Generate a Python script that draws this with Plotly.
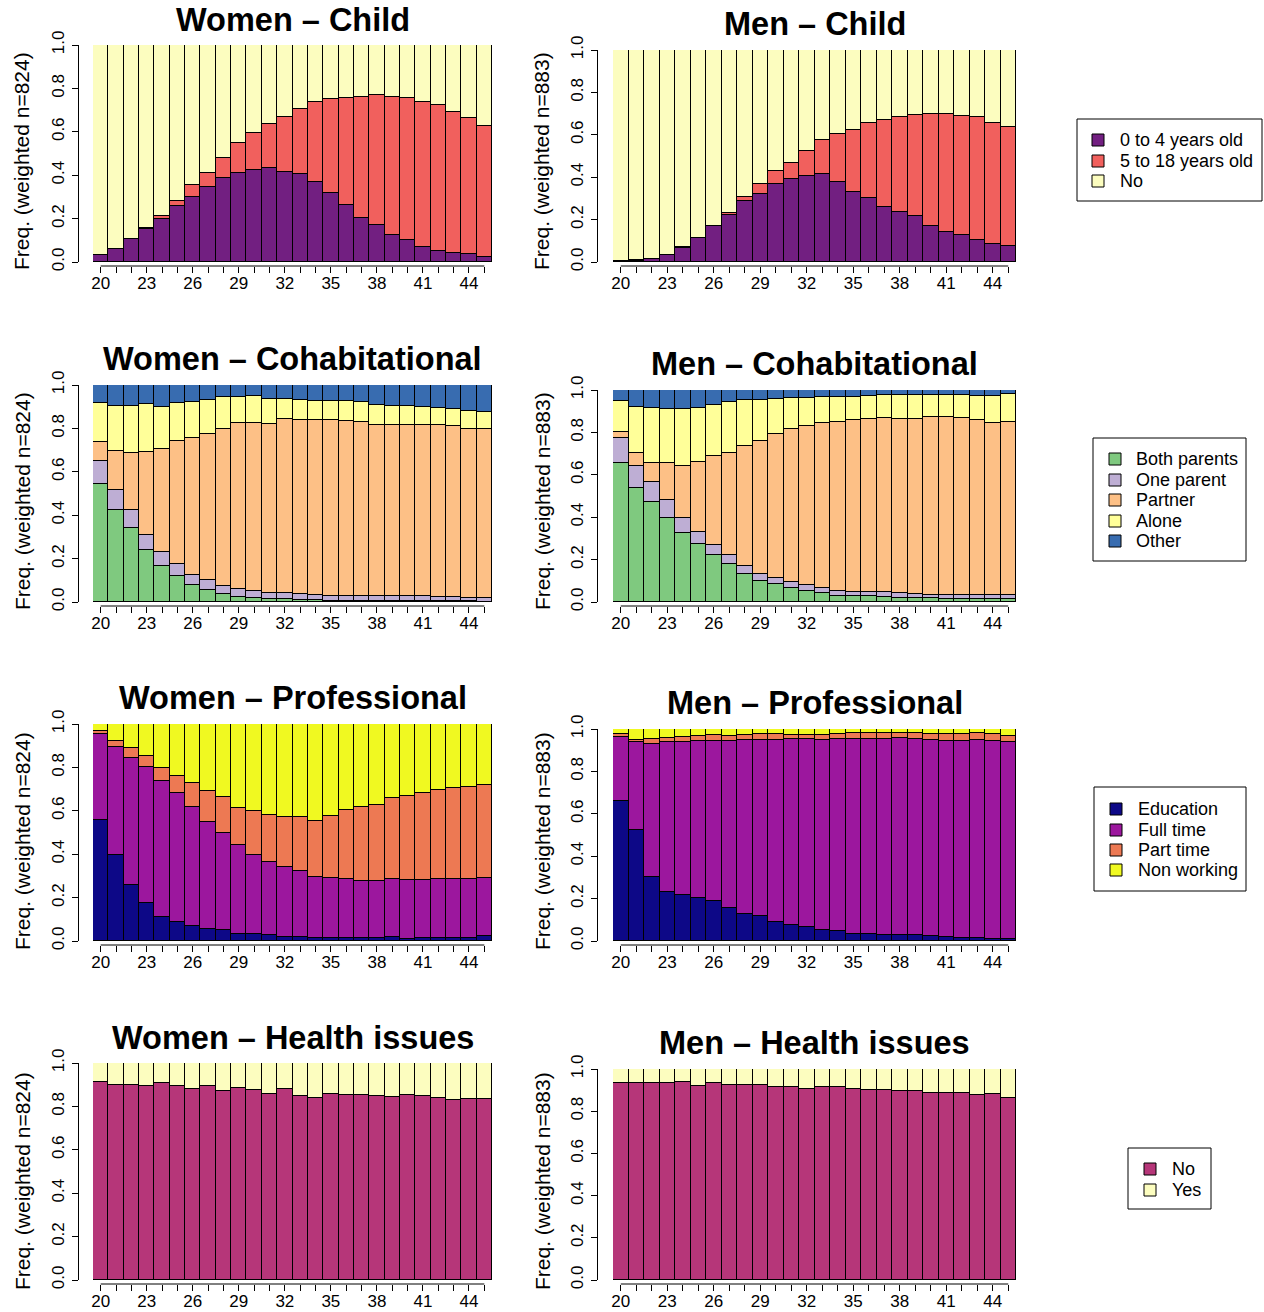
import plotly.graph_objects as go

W, H = 1264, 1312
FONT = "Liberation Sans, Arial, Helvetica, sans-serif"

# ---------------------------------------------------------------- data
ages = list(range(20, 46))
labeled_ages = [20, 23, 26, 29, 32, 35, 38, 41, 44]
y_ticks = [0.0, 0.2, 0.4, 0.6, 0.8, 1.0]
y_tick_labels = ["0.0", "0.2", "0.4", "0.6", "0.8", "1.0"]

# Child
child_states = ["0 to 4 years old", "5 to 18 years old", "No"]
child_colors = ["#721F81", "#F1605D", "#FCFDBF"]
women_child_0_4 = [0.030, 0.060, 0.105, 0.150, 0.200, 0.260, 0.300, 0.345, 0.385, 0.410, 0.425, 0.435, 0.415,
                   0.405, 0.370, 0.320, 0.265, 0.205, 0.170, 0.125, 0.100, 0.070, 0.050, 0.040, 0.035, 0.025]
women_child_5_18 = [0.000, 0.002, 0.003, 0.005, 0.010, 0.020, 0.055, 0.065, 0.095, 0.140, 0.170, 0.202, 0.255,
                    0.302, 0.368, 0.432, 0.493, 0.555, 0.598, 0.637, 0.655, 0.668, 0.672, 0.650, 0.630, 0.600]
women_child_no = [0.970, 0.938, 0.892, 0.845, 0.790, 0.720, 0.645, 0.590, 0.520, 0.450, 0.405, 0.363, 0.330,
                  0.293, 0.262, 0.248, 0.242, 0.240, 0.232, 0.238, 0.245, 0.262, 0.278, 0.310, 0.335, 0.375]
men_child_0_4 = [0.002, 0.007, 0.014, 0.032, 0.067, 0.112, 0.169, 0.224, 0.288, 0.320, 0.367, 0.392, 0.405,
                 0.414, 0.378, 0.331, 0.304, 0.260, 0.238, 0.217, 0.170, 0.143, 0.129, 0.104, 0.083, 0.074]
men_child_5_18 = [0.001, 0.002, 0.002, 0.003, 0.003, 0.003, 0.003, 0.009, 0.019, 0.047, 0.063, 0.077, 0.119,
                  0.161, 0.228, 0.294, 0.350, 0.408, 0.447, 0.476, 0.530, 0.556, 0.562, 0.578, 0.575, 0.561]
men_child_no = [0.997, 0.991, 0.984, 0.965, 0.930, 0.885, 0.828, 0.767, 0.693, 0.633, 0.570, 0.531, 0.476,
                0.425, 0.394, 0.375, 0.346, 0.332, 0.315, 0.307, 0.300, 0.301, 0.309, 0.318, 0.342, 0.365]

# Cohabitational
cohab_states = ["Both parents", "One parent", "Partner", "Alone", "Other"]
cohab_colors = ["#7FC97F", "#BEAED4", "#FDC086", "#FFFF99", "#386CB0"]
women_cohab_both = [0.546, 0.426, 0.343, 0.238, 0.166, 0.120, 0.077, 0.057, 0.035, 0.023, 0.018, 0.014, 0.012,
                    0.009, 0.007, 0.006, 0.005, 0.005, 0.005, 0.004, 0.004, 0.004, 0.003, 0.003, 0.003, 0.002]
women_cohab_one = [0.103, 0.089, 0.083, 0.070, 0.065, 0.057, 0.046, 0.043, 0.039, 0.039, 0.033, 0.029, 0.028,
                   0.028, 0.027, 0.023, 0.023, 0.023, 0.023, 0.024, 0.024, 0.024, 0.022, 0.019, 0.017, 0.016]
women_cohab_partner = [0.089, 0.183, 0.259, 0.383, 0.475, 0.563, 0.634, 0.675, 0.723, 0.761, 0.774, 0.777, 0.802,
                       0.801, 0.803, 0.808, 0.806, 0.801, 0.787, 0.786, 0.789, 0.787, 0.789, 0.787, 0.778, 0.777]
women_cohab_alone = [0.180, 0.207, 0.220, 0.220, 0.192, 0.175, 0.166, 0.156, 0.146, 0.123, 0.126, 0.114, 0.093,
                     0.091, 0.091, 0.089, 0.091, 0.091, 0.094, 0.088, 0.085, 0.082, 0.078, 0.079, 0.080, 0.082]
women_cohab_other = [0.082, 0.095, 0.095, 0.089, 0.102, 0.085, 0.077, 0.069, 0.057, 0.054, 0.049, 0.066, 0.065,
                     0.071, 0.072, 0.074, 0.075, 0.080, 0.091, 0.098, 0.098, 0.103, 0.108, 0.112, 0.122, 0.123]
men_cohab_both = [0.657, 0.539, 0.472, 0.397, 0.326, 0.272, 0.220, 0.180, 0.134, 0.099, 0.085, 0.066, 0.052,
                  0.043, 0.028, 0.028, 0.028, 0.024, 0.019, 0.019, 0.019, 0.016, 0.014, 0.014, 0.013, 0.013]
men_cohab_one = [0.118, 0.102, 0.095, 0.085, 0.071, 0.056, 0.051, 0.042, 0.035, 0.035, 0.030, 0.030, 0.030,
                 0.022, 0.026, 0.021, 0.021, 0.022, 0.024, 0.020, 0.016, 0.017, 0.019, 0.021, 0.020, 0.020]
men_cohab_partner = [0.028, 0.063, 0.090, 0.172, 0.246, 0.333, 0.416, 0.479, 0.568, 0.625, 0.679, 0.718, 0.748,
                     0.778, 0.793, 0.808, 0.814, 0.823, 0.822, 0.822, 0.836, 0.839, 0.833, 0.823, 0.811, 0.814]
men_cohab_alone = [0.145, 0.217, 0.260, 0.258, 0.269, 0.252, 0.242, 0.244, 0.214, 0.192, 0.165, 0.150, 0.131,
                   0.122, 0.122, 0.112, 0.109, 0.107, 0.110, 0.114, 0.105, 0.103, 0.109, 0.112, 0.126, 0.132]
men_cohab_other = [0.052, 0.079, 0.083, 0.088, 0.088, 0.087, 0.071, 0.055, 0.049, 0.049, 0.041, 0.036, 0.039,
                   0.035, 0.031, 0.031, 0.028, 0.024, 0.025, 0.025, 0.024, 0.025, 0.025, 0.030, 0.030, 0.021]

# Professional
prof_states = ["Education", "Full time", "Part time", "Non working"]
prof_colors = ["#0D0887", "#9C179E", "#ED7953", "#F0F921"]
women_prof_edu = [0.558, 0.396, 0.260, 0.173, 0.111, 0.088, 0.069, 0.057, 0.049, 0.034, 0.031, 0.028, 0.020,
                  0.020, 0.014, 0.014, 0.014, 0.015, 0.015, 0.020, 0.011, 0.014, 0.015, 0.015, 0.014, 0.023]
women_prof_full = [0.396, 0.496, 0.583, 0.627, 0.627, 0.593, 0.550, 0.493, 0.450, 0.407, 0.367, 0.337, 0.322,
                   0.304, 0.282, 0.276, 0.273, 0.262, 0.261, 0.265, 0.269, 0.268, 0.270, 0.269, 0.273, 0.267]
women_prof_part = [0.012, 0.031, 0.046, 0.051, 0.059, 0.079, 0.107, 0.143, 0.165, 0.174, 0.201, 0.216, 0.230,
                   0.249, 0.256, 0.285, 0.317, 0.341, 0.350, 0.373, 0.386, 0.401, 0.413, 0.422, 0.422, 0.431]
women_prof_non = [0.034, 0.077, 0.111, 0.149, 0.203, 0.240, 0.274, 0.307, 0.336, 0.385, 0.401, 0.419, 0.428,
                  0.427, 0.448, 0.425, 0.396, 0.382, 0.374, 0.342, 0.334, 0.317, 0.302, 0.294, 0.291, 0.279]
men_prof_edu = [0.661, 0.524, 0.300, 0.230, 0.215, 0.205, 0.189, 0.158, 0.126, 0.117, 0.091, 0.077, 0.068,
                0.050, 0.046, 0.032, 0.035, 0.030, 0.028, 0.028, 0.022, 0.020, 0.016, 0.016, 0.011, 0.011]
men_prof_full = [0.300, 0.414, 0.629, 0.707, 0.723, 0.738, 0.756, 0.785, 0.822, 0.831, 0.857, 0.874, 0.886,
                 0.898, 0.908, 0.919, 0.918, 0.923, 0.928, 0.925, 0.926, 0.923, 0.929, 0.934, 0.932, 0.927]
men_prof_part = [0.014, 0.012, 0.024, 0.019, 0.024, 0.022, 0.027, 0.025, 0.025, 0.027, 0.028, 0.021, 0.019,
                 0.024, 0.022, 0.028, 0.026, 0.030, 0.025, 0.028, 0.027, 0.032, 0.030, 0.031, 0.033, 0.030]
men_prof_non = [0.025, 0.050, 0.047, 0.044, 0.038, 0.035, 0.028, 0.032, 0.027, 0.025, 0.024, 0.028, 0.027,
                0.028, 0.024, 0.021, 0.021, 0.017, 0.019, 0.019, 0.025, 0.025, 0.025, 0.019, 0.024, 0.032]

# Health issues
health_states = ["No", "Yes"]
health_colors = ["#B63679", "#FCFDBF"]
women_health_no = [0.911, 0.898, 0.897, 0.895, 0.909, 0.892, 0.882, 0.895, 0.872, 0.883, 0.877, 0.855, 0.878,
                   0.846, 0.840, 0.858, 0.852, 0.852, 0.846, 0.845, 0.851, 0.848, 0.838, 0.828, 0.832, 0.835]
women_health_yes = [0.089, 0.102, 0.103, 0.105, 0.091, 0.108, 0.118, 0.105, 0.128, 0.117, 0.123, 0.145, 0.122,
                    0.154, 0.160, 0.142, 0.148, 0.148, 0.154, 0.155, 0.149, 0.152, 0.162, 0.172, 0.168, 0.165]
men_health_no = [0.935, 0.934, 0.932, 0.935, 0.937, 0.921, 0.932, 0.923, 0.926, 0.926, 0.916, 0.915, 0.904,
                 0.916, 0.916, 0.905, 0.899, 0.900, 0.896, 0.897, 0.888, 0.888, 0.888, 0.878, 0.880, 0.864]
men_health_yes = [0.065, 0.066, 0.068, 0.065, 0.063, 0.079, 0.068, 0.077, 0.074, 0.074, 0.084, 0.085, 0.096,
                  0.084, 0.084, 0.095, 0.101, 0.100, 0.104, 0.103, 0.112, 0.112, 0.112, 0.122, 0.120, 0.136]

women_n, men_n = 824, 883

# ---------------------------------------------------------------- layout geometry (pixels)
def fx(px):
    return px / W


def fy(px):
    return 1 - px / H


columns = {
    "women": dict(x0=93, x1=492, axis_x=78, label_x=22),
    "men": dict(x0=613, x1=1016, axis_x=597, label_x=542),
}
row_top = {"women": [45, 385, 724, 1063], "men": [50, 390, 729, 1069]}
row_bottom = [262, 602, 941, 1280]
title_y = {"women": [20, 359, 698, 1038], "men": [24, 364, 703, 1043]}
ylabel_y = [161, 501, 841, 1181]

panels = [
    ("women", 0, "Women \u2013 Child", [women_child_0_4, women_child_5_18, women_child_no], child_colors),
    ("men", 0, "Men \u2013 Child", [men_child_0_4, men_child_5_18, men_child_no], child_colors),
    ("women", 1, "Women \u2013 Cohabitational",
     [women_cohab_both, women_cohab_one, women_cohab_partner, women_cohab_alone, women_cohab_other], cohab_colors),
    ("men", 1, "Men \u2013 Cohabitational",
     [men_cohab_both, men_cohab_one, men_cohab_partner, men_cohab_alone, men_cohab_other], cohab_colors),
    ("women", 2, "Women \u2013 Professional",
     [women_prof_edu, women_prof_full, women_prof_part, women_prof_non], prof_colors),
    ("men", 2, "Men \u2013 Professional",
     [men_prof_edu, men_prof_full, men_prof_part, men_prof_non], prof_colors),
    ("women", 3, "Women \u2013 Health issues", [women_health_no, women_health_yes], health_colors),
    ("men", 3, "Men \u2013 Health issues", [men_health_no, men_health_yes], health_colors),
]

legends = [
    dict(states=child_states, colors=child_colors, box=(1077, 119, 1262, 201), sq_x=1098, text_x=1118,
         rows=[140, 161, 181]),
    dict(states=cohab_states, colors=cohab_colors, box=(1093, 438, 1246, 561), sq_x=1115, text_x=1134,
         rows=[459, 480, 500, 521, 541]),
    dict(states=prof_states, colors=prof_colors, box=(1094, 787, 1246, 891), sq_x=1116, text_x=1136,
         rows=[809, 830, 850, 870]),
    dict(states=health_states, colors=health_colors, box=(1128, 1148, 1211, 1209), sq_x=1150, text_x=1170,
         rows=[1169, 1190]),
]

# ---------------------------------------------------------------- figure
fig = go.Figure()
shapes, annotations = [], []
layout_axes = {}
x_tick_text = [str(a) if a in labeled_ages else "" for a in ages]

for i, (sex, row, title, series, colors) in enumerate(panels):
    xr = "x" if i == 0 else f"x{i + 1}"
    yr = "y" if i == 0 else f"y{i + 1}"
    col = columns[sex]
    top, bottom = row_top[sex][row], row_bottom[row]

    for vals, color in zip(series, colors):
        fig.add_trace(go.Bar(
            x=ages, y=vals, xaxis=xr, yaxis=yr,
            marker=dict(color=color, line=dict(color="black", width=1)),
            showlegend=False, hoverinfo="skip",
        ))

    axis_y = bottom + 4
    layout_axes["xaxis" if i == 0 else f"xaxis{i + 1}"] = dict(
        domain=[fx(col["x0"]), fx(col["x1"])], range=[ages[0] - 0.5, ages[-1] + 0.5],
        anchor="free", position=fy(axis_y), showline=False, showgrid=False, zeroline=False,
        automargin=False,
        ticks="outside", ticklen=6, tickwidth=1, tickcolor="black", ticklabelstandoff=-4,
        tickvals=ages, ticktext=x_tick_text, tickangle=0,
        tickfont=dict(family=FONT, size=17, color="black"), fixedrange=True,
    )
    layout_axes["yaxis" if i == 0 else f"yaxis{i + 1}"] = dict(
        domain=[fy(bottom), fy(top)], range=[0, 1],
        anchor="free", position=fx(col["axis_x"]), showline=True, linecolor="black", linewidth=1,
        showgrid=False, zeroline=False, automargin=False,
        ticks="outside", ticklen=6, tickwidth=1, tickcolor="black", ticklabelstandoff=1,
        tickvals=y_ticks, ticktext=y_tick_labels, tickangle=-90,
        tickfont=dict(family=FONT, size=17, color="black"), fixedrange=True,
    )

    # x axis line spanning first to last age
    shapes.append(dict(type="line", xref=xr, yref="paper", x0=ages[0], x1=ages[-1],
                       y0=fy(axis_y), y1=fy(axis_y), line=dict(color="black", width=1)))

    annotations.append(dict(
        text=title, xref="paper", yref="paper",
        x=fx((col["x0"] + col["x1"]) / 2), y=fy(title_y[sex][row]),
        xanchor="center", yanchor="middle", showarrow=False,
        font=dict(family=FONT, size=32.5, color="black", weight="bold"),
    ))
    n = women_n if sex == "women" else men_n
    annotations.append(dict(
        text=f"Freq. (weighted n={n})", xref="paper", yref="paper",
        x=fx(col["label_x"]), y=fy(ylabel_y[row]), textangle=-90,
        xanchor="center", yanchor="middle", showarrow=False,
        font=dict(family=FONT, size=21, color="black"),
    ))

# legends: framed boxes with colour keys
for lg in legends:
    bx0, by0, bx1, by1 = lg["box"]
    shapes.append(dict(type="rect", xref="paper", yref="paper",
                       x0=fx(bx0), x1=fx(bx1), y0=fy(by1), y1=fy(by0),
                       line=dict(color="black", width=1), fillcolor="rgba(0,0,0,0)"))
    half = 6
    for state, color, ry in zip(lg["states"], lg["colors"], lg["rows"]):
        shapes.append(dict(type="rect", xref="paper", yref="paper",
                           x0=fx(lg["sq_x"] - half), x1=fx(lg["sq_x"] + half),
                           y0=fy(ry + half), y1=fy(ry - half),
                           line=dict(color="black", width=1), fillcolor=color))
        annotations.append(dict(
            text=state, xref="paper", yref="paper", x=fx(lg["text_x"]), y=fy(ry),
            xanchor="left", yanchor="middle", showarrow=False,
            font=dict(family=FONT, size=18, color="black"),
        ))

fig.update_layout(
    width=W, height=H, margin=dict(l=0, r=0, t=0, b=0, pad=0, autoexpand=False),
    paper_bgcolor="white", plot_bgcolor="white",
    barmode="stack", bargap=0, showlegend=False,
    shapes=shapes, annotations=annotations,
    **layout_axes,
)

fig.write_html("out.html", config={"displayModeBar": False})
